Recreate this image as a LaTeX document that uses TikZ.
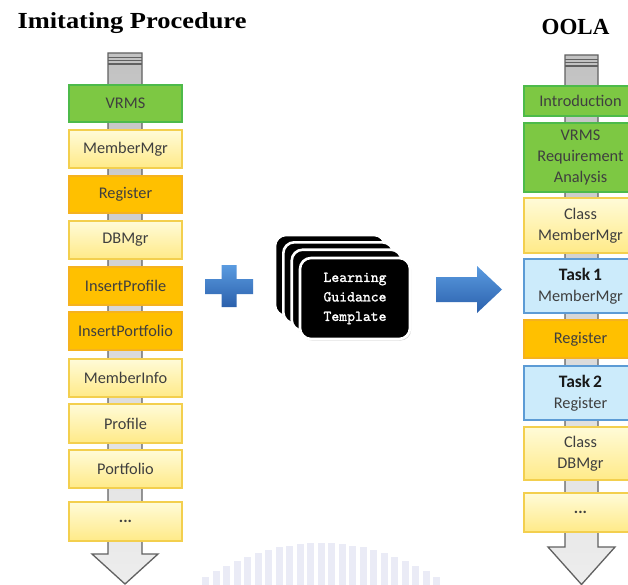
\documentclass[tikz,border=0pt]{standalone}
\usepackage{fontspec}
\setmainfont{Carlito}
\newfontfamily\headfont{Liberation Serif}
\newfontfamily\headwidefont[FakeStretch=1.15]{Liberation Serif}
\newfontfamily\cardfont[FakeBold=1.3]{lmmono10-regular.otf}
\usetikzlibrary{shadows}

\definecolor{grnfill}{HTML}{7DC843}
\definecolor{grnline}{HTML}{4DBA4A}
\definecolor{yeltop}{HTML}{FFFBD8}
\definecolor{yelbot}{HTML}{FFEA88}
\definecolor{yelline}{HTML}{F3CF4E}
\definecolor{orgfill}{HTML}{FFC000}
\definecolor{orgline}{HTML}{F5B21E}
\definecolor{bluefill}{HTML}{CCEBFB}
\definecolor{blueline}{HTML}{5C9BD5}
\definecolor{txt}{HTML}{3F3F3F}
\definecolor{bluetop}{HTML}{5A9BE0}
\definecolor{bluebot}{HTML}{2B60AC}
\definecolor{wmark}{HTML}{DCDFF0}

% bold heading line inside the task boxes
\newcommand\tasktext[1]{{\bfseries\fontsize{17.5}{20}\selectfont\color{black!90}#1}}

\tikzset{
  stagebox/.style={draw, line width=1.2pt, minimum width=113pt, inner sep=0pt,
    align=center, text=txt, font=\fontsize{16.3}{20.8}\selectfont},
  greenbox/.style={stagebox, fill=grnfill, draw=grnline},
  yellowbox/.style={stagebox, top color=yeltop, bottom color=yelbot, draw=yelline},
  orangebox/.style={stagebox, fill=orgfill, draw=orgline},
  bluebox/.style={stagebox, fill=bluefill, draw=blueline},
  shaft/.style={top color=black!24, bottom color=black!7, draw=black!62, line width=1.3pt, line join=miter},
  capline/.style={draw=black!62, line width=1.3pt},
  card/.style={fill=black, draw=white, line width=2.6pt, rounded corners=11pt,
    minimum width=110pt, minimum height=81pt, inner sep=0pt,
    drop shadow={opacity=0.35, shadow xshift=1.2pt, shadow yshift=-1.6pt}},
  bigblue/.style={top color=bluetop, bottom color=bluebot, draw=none},
}

\begin{document}
\begin{tikzpicture}[x=1pt, y=-1pt]
\useasboundingbox (0,0) rectangle (628,585);
\clip (0,0) rectangle (628,585);
\fill[white] (0,0) rectangle (628,585);

% faint seal at the bottom
\foreach \i in {-11,...,11}
  \fill[wmark, opacity=0.6] ({321+10.5*\i-3.5}, {543+0.28*\i*\i}) rectangle ++(7,45);

% titles
\node[font=\headwidefont\bfseries\fontsize{23}{26}\selectfont, anchor=base] (ttl) at (132,28.3) {Imitating Procedure};
\node[font=\headfont\bfseries\fontsize{23}{26}\selectfont, anchor=base] (ttr) at (575.5,35) {OOLA};

% left shaft with cap and arrow head
\path[shaft] (108,53) -- (108,554) -- (92,554) -- (125,584) -- (158,554) -- (142,554) -- (142,53) -- cycle;
\foreach \yy in {57.3,60.7,64} \draw[capline] (108,\yy) -- (142,\yy);

% right shaft with cap and arrow head
\path[shaft] (565,55) -- (565,547) -- (548,547) -- (581.5,584.5) -- (615,547) -- (598,547) -- (598,55) -- cycle;
\foreach \yy in {59.3,62.7,66} \draw[capline] (565,\yy) -- (598,\yy);

% imitating procedure stages
\node[greenbox,  minimum height=37pt] (l1)  at (125.5,103.5) {VRMS};
\node[yellowbox, minimum height=38pt] (l2)  at (125.5,149)   {MemberMgr};
\node[orangebox, minimum height=37pt] (l3)  at (125.5,194.5) {Register};
\node[yellowbox, minimum height=38pt] (l4)  at (125.5,240)   {DBMgr};
\node[orangebox, minimum height=38pt] (l5)  at (125.5,286)   {InsertProfile};
\node[orangebox, minimum height=38pt] (l6)  at (125.5,331)   {InsertPortfolio};
\node[yellowbox, minimum height=38pt] (l7)  at (125.5,378)   {MemberInfo};
\node[yellowbox, minimum height=39pt] (l8)  at (125.5,423.5) {Profile};
\node[yellowbox, minimum height=38pt] (l9)  at (125.5,469)   {Portfolio};
\node[yellowbox, minimum height=39pt] (l10) at (125.5,521.5) {\bfseries ...};

% OOLA stages
\node[greenbox,  minimum height=30pt] (r1) at (580.5,101)   {Introduction};
\node[greenbox,  minimum height=69pt] (r2) at (580.5,157.5) {VRMS\\Requirement\\Analysis};
\node[yellowbox, minimum height=55pt] (r3) at (580.5,225.5) {Class\\MemberMgr};
\node[bluebox,   minimum height=54pt] (r4) at (580.5,286)   {\tasktext{Task\,1}\\MemberMgr};
\node[orangebox, minimum height=38pt] (r5) at (580.5,339)   {Register};
\node[bluebox,   minimum height=54pt] (r6) at (580.5,393)   {\tasktext{Task\,2}\\Register};
\node[yellowbox, minimum height=53pt] (r7) at (580.5,453.5) {Class\\DBMgr};
\node[yellowbox, minimum height=39pt] (r8) at (580.5,512.5) {\bfseries ...};

% plus sign
\path[bigblue] (221.5,265) -- (236.5,265) -- (236.5,279) -- (253,279) -- (253,294)
  -- (236.5,294) -- (236.5,307) -- (221.5,307) -- (221.5,294) -- (205,294)
  -- (205,279) -- (221.5,279) -- cycle;

% stack of template cards
\node[card] (c4) at (330,275.5) {};
\node[card] (c3) at (338.3,282.8) {};
\node[card] (c2) at (346.7,290.2) {};
\node[card, text=white, align=center, font=\cardfont\fontsize{15}{19.5}\selectfont] (c1) at (355,298.5)
  {Learning\\Guidance\\Template};

% arrow towards OOLA
\path[bigblue] (436,277) -- (477,277) -- (477,266) -- (502,289.5) -- (477,313) -- (477,302) -- (436,302) -- cycle;
\end{tikzpicture}
\end{document}
